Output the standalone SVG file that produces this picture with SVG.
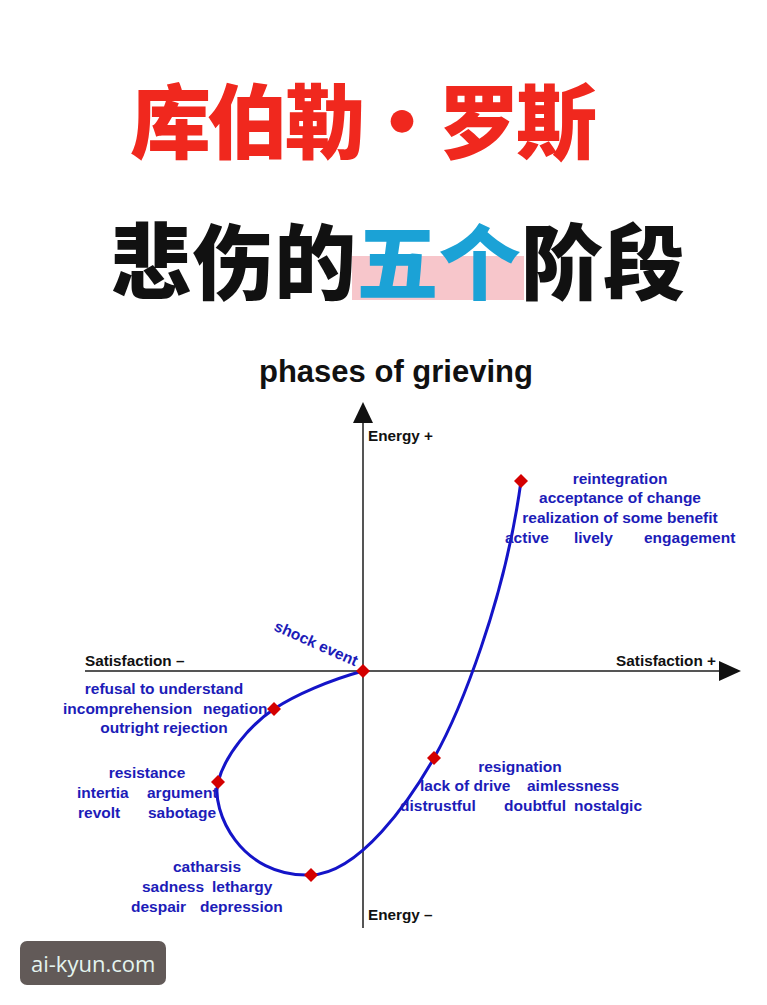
<svg xmlns="http://www.w3.org/2000/svg" width="767" height="1005" viewBox="0 0 767 1005">
<style>
.cjk{font-family:"Noto Sans CJK SC","Noto Sans CJK JP",sans-serif;font-weight:900}
.ax{font-family:"Liberation Sans",Arial,sans-serif;font-weight:bold;font-size:15.3px;fill:#111}
.lb{font-family:"Liberation Sans",Arial,sans-serif;font-weight:bold;font-size:15.5px;fill:#1c1cb8}
.c{text-anchor:middle}
.axis{stroke:#555;stroke-width:2;fill:none}
.curve{stroke:#1414c8;stroke-width:3;fill:none}
.dia{fill:#d40000}
</style>
<defs>
<polygon id="d" points="0,-7 7,0 0,7 -7,0"/>
</defs>
<rect width="767" height="1005" fill="#fff"/>
<g id="title1">
<text class="cjk" x="130" y="152" font-size="81" fill="#f0281e" textLength="467" lengthAdjust="spacing">库伯勒·罗斯</text>
</g>
<g id="title2">
<rect x="352" y="256" width="172" height="44" fill="#f7c6cb"/>
<text class="cjk" x="110" y="293" font-size="82" fill="#111" textLength="575" lengthAdjust="spacing">悲伤的<tspan fill="#1ba2d6">五个</tspan>阶段</text>
</g>
<g id="chart-title">
<text x="259" y="382" font-family="Liberation Sans, Arial, sans-serif" font-weight="bold" font-size="31" fill="#111">phases of grieving</text>
</g>
<g id="axes">
<line class="axis" x1="363" y1="418" x2="363" y2="928"/>
<polygon points="363,402 353,423 373,423" fill="#111"/>
<line class="axis" x1="85" y1="671" x2="722" y2="671"/>
<polygon points="741,671 719,661 719,681" fill="#111"/>
<text class="ax" x="368" y="441">Energy +</text>
<text class="ax" x="368" y="920">Energy –</text>
<text class="ax" x="85" y="666">Satisfaction –</text>
<text class="ax" x="716" y="666" text-anchor="end">Satisfaction +</text>
</g>
<g id="connectors">
<path class="curve" d="M363,671 C330,680 295,695 274,709 C250,725 225,755 218,782 C211,810 240,878 311,875 C360,873 410,800 434,758 C460,712 505,600 521,481"/>
</g>
<g id="shock">
<use href="#d" class="dia" x="363" y="671"/>
<text class="lb" x="273" y="630" font-size="14.5" transform="rotate(24 273 630)">shock event</text>
</g>
<g id="denial">
<use href="#d" class="dia" x="274" y="709"/>
<text class="lb c" x="164" y="694">refusal to understand</text>
<text class="lb" x="63" y="714">incomprehension</text>
<text class="lb" x="203" y="714">negation</text>
<text class="lb c" x="164" y="733">outright rejection</text>
</g>
<g id="anger">
<use href="#d" class="dia" x="218" y="782"/>
<text class="lb c" x="147" y="778">resistance</text>
<text class="lb" x="77" y="798">intertia</text>
<text class="lb" x="147" y="798">argument</text>
<text class="lb" x="78" y="818">revolt</text>
<text class="lb" x="148" y="818">sabotage</text>
</g>
<g id="depression">
<use href="#d" class="dia" x="311" y="875"/>
<text class="lb c" x="207" y="872">catharsis</text>
<text class="lb" x="142" y="892">sadness</text>
<text class="lb" x="212" y="892">lethargy</text>
<text class="lb" x="131" y="912">despair</text>
<text class="lb" x="200" y="912">depression</text>
</g>
<g id="resignation">
<use href="#d" class="dia" x="434" y="758"/>
<text class="lb c" x="520" y="772">resignation</text>
<text class="lb" x="420" y="791">lack of drive</text>
<text class="lb" x="527" y="791">aimlessness</text>
<text class="lb" x="400" y="811">distrustful</text>
<text class="lb" x="504" y="811">doubtful</text>
<text class="lb" x="574" y="811">nostalgic</text>
</g>
<g id="reintegration">
<use href="#d" class="dia" x="521" y="481"/>
<text class="lb c" x="620" y="484">reintegration</text>
<text class="lb c" x="620" y="503">acceptance of change</text>
<text class="lb c" x="620" y="523">realization of some benefit</text>
<text class="lb" x="505" y="543">active</text>
<text class="lb" x="574" y="543">lively</text>
<text class="lb" x="644" y="543">engagement</text>
</g>
<g id="watermark">
<rect x="20" y="941" width="146" height="44" rx="7" fill="#625a58"/>
<text x="31" y="972" font-family="Open Sans, Noto Sans, sans-serif" font-size="22" fill="#e4f4ef">ai-kyun.com</text>
</g>
</svg>
